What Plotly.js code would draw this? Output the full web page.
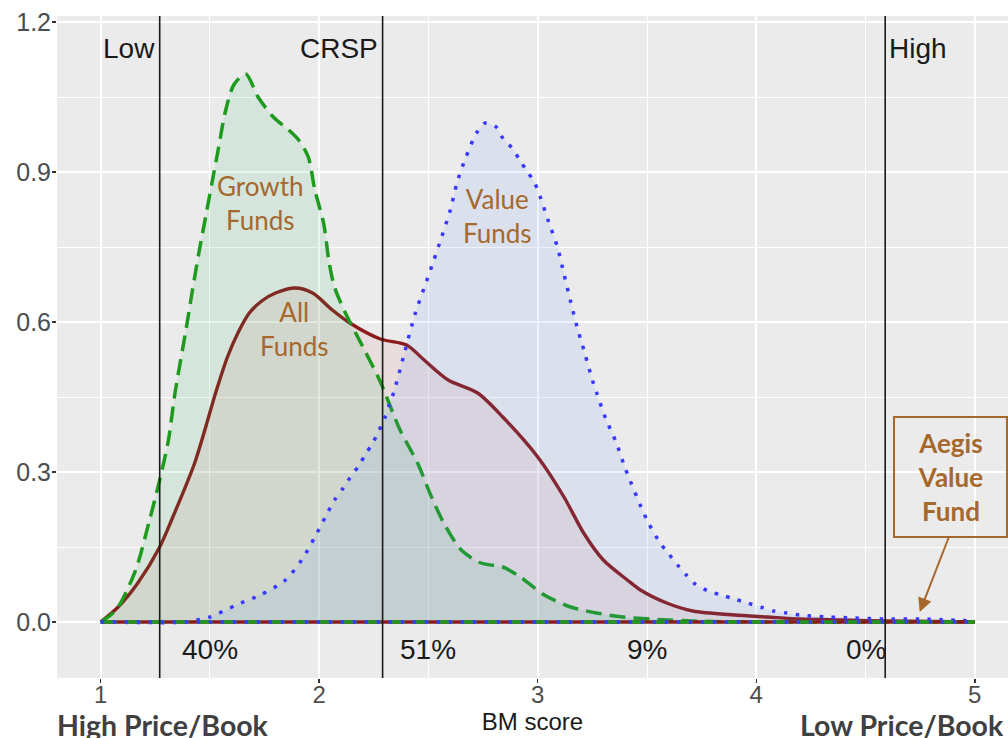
<!DOCTYPE html>
<html><head><meta charset="utf-8">
<script src="https://cdn.plot.ly/plotly-3.0.1.min.js"></script>
<style>html,body{margin:0;padding:0;background:#fff;overflow:hidden}#chart{width:1008px;height:738px}</style>
</head><body><div id="chart"></div>
<script>
// BM score grid points and density values
const growthX = [1.00,1.04,1.08,1.16,1.22,1.27,1.31,1.34,1.39,1.42,1.45,1.48,1.51,1.54,1.57,1.61,1.664,1.72,1.79,1.86,1.906,1.95,1.98,2.02,2.045,2.07,2.12,2.20,2.28,2.37,2.45,2.51,2.57,2.65,2.74,2.84,2.92,3.03,3.15,3.27,3.39,3.59,3.80,4.20,5.00];
const growthY = [0.000,0.012,0.030,0.104,0.198,0.284,0.364,0.458,0.584,0.664,0.740,0.810,0.880,0.950,1.020,1.075,1.096,1.050,1.010,0.984,0.964,0.930,0.864,0.798,0.720,0.670,0.618,0.550,0.480,0.384,0.318,0.254,0.198,0.144,0.118,0.110,0.090,0.054,0.030,0.018,0.010,0.004,0.001,0.000,0.000];

const allX = [1.00,1.08,1.17,1.27,1.33,1.43,1.53,1.58,1.63,1.68,1.74,1.80,1.89,1.97,2.06,2.14,2.28,2.40,2.48,2.59,2.725,2.84,3.00,3.12,3.21,3.30,3.41,3.47,3.59,3.71,3.90,4.05,4.20,4.39,4.60,5.00];
const allY = [0.000,0.030,0.078,0.150,0.210,0.318,0.464,0.530,0.580,0.618,0.643,0.658,0.668,0.658,0.624,0.598,0.566,0.554,0.524,0.484,0.458,0.410,0.330,0.250,0.178,0.124,0.084,0.064,0.038,0.022,0.014,0.010,0.006,0.004,0.002,0.000];

const valueX = [1.00,1.40,1.44,1.50,1.62,1.73,1.84,1.92,1.98,2.04,2.07,2.11,2.14,2.18,2.21,2.245,2.27,2.30,2.32,2.34,2.39,2.44,2.48,2.52,2.56,2.60,2.63,2.67,2.72,2.76,2.81,2.84,2.886,2.92,2.954,2.986,3.01,3.05,3.09,3.12,3.15,3.18,3.215,3.25,3.27,3.31,3.36,3.40,3.50,3.56,3.60,3.64,3.68,3.72,3.78,3.84,3.90,3.96,4.02,4.08,4.14,4.20,4.33,4.45,4.58,4.75,5.00];
const valueY = [0.000,0.000,0.004,0.010,0.034,0.054,0.082,0.124,0.170,0.220,0.244,0.268,0.288,0.312,0.334,0.358,0.380,0.408,0.434,0.458,0.538,0.618,0.668,0.718,0.770,0.824,0.878,0.928,0.978,0.998,0.990,0.968,0.946,0.922,0.900,0.878,0.852,0.800,0.750,0.696,0.642,0.590,0.538,0.484,0.458,0.408,0.358,0.308,0.204,0.158,0.136,0.114,0.094,0.076,0.062,0.054,0.046,0.038,0.030,0.022,0.018,0.014,0.010,0.008,0.006,0.006,0.002];

const cutoffs = [1.27, 2.29, 4.59];
const cutoffLabels = ["Low", "CRSP", "High"];
const shareX = [1.5, 2.5, 3.5, 4.5];
const shareLabels = ["40%", "51%", "9%", "0%"];
const xTicks = [1, 2, 3, 4, 5];

const brown = "#A5682D";
const green = "#1E9A1E", red = "#8B1A1A", blue = "#3838FF";
const greenDash = "16px,8px", blueDot = "3.5px,8.5px";

function curve(x, y, color, fill, dash, width) {
  return {x: x, y: y, type: "scatter", mode: "lines", fill: "tozeroy", fillcolor: fill,
    line: {color: color, width: width, dash: dash, shape: "spline", smoothing: 0.8},
    hoverinfo: "skip", showlegend: false};
}
function base(x, color, dash, width) {
  return {x: [x[0], x[x.length-1]], y: [0, 0], type: "scatter", mode: "lines",
    line: {color: color, width: width, dash: dash}, hoverinfo: "skip", showlegend: false};
}

const traces = [
  curve(allX, allY, red, "rgba(205,85,85,0.10)", "solid", 3.4),
  curve(growthX, growthY, green, "rgba(40,185,90,0.11)", greenDash, 3.5),
  curve(valueX, valueY, blue, "rgba(85,150,255,0.11)", blueDot, 3.5),
  base(allX, red, "solid", 3.4),
  base(growthX, green, greenDash, 3.5),
  base(valueX, blue, blueDot, 3.5)
];

const annotations = [];
const blackFont = {family: "Liberation Sans, Arial", size: 28, color: "#1a1a1a"};
cutoffs.forEach((c, i) => {
  const right = i < 2;
  annotations.push({x: c, y: 1.148, xref: "x", yref: "y", text: cutoffLabels[i], showarrow: false,
    xanchor: right ? "right" : "left", xshift: right ? -3 : 2, font: blackFont});
});
shareX.forEach((s, i) => {
  annotations.push({x: s, y: -0.054, xref: "x", yref: "y", text: shareLabels[i], showarrow: false,
    xanchor: "center", font: blackFont});
});
const brownFont = {family: "Lato, Open Sans", size: 26, color: brown};
annotations.push({x: 1.732, y: 0.838, xref: "x", yref: "y", text: "Growth<br>Funds", showarrow: false, xanchor: "center", font: brownFont});
annotations.push({x: 2.817, y: 0.812, xref: "x", yref: "y", text: "Value<br>Funds", showarrow: false, xanchor: "center", font: brownFont});
annotations.push({x: 1.888, y: 0.586, xref: "x", yref: "y", text: "All<br>Funds", showarrow: false, xanchor: "center", font: brownFont});
// Aegis box
annotations.push({x: 4.890, y: 0.290, xref: "x", yref: "y", text: "<b>Aegis<br>Value<br>Fund</b>",
  showarrow: false, xanchor: "center", yanchor: "middle",
  bordercolor: brown, borderwidth: 2, borderpad: 4, width: 103, height: 110,
  font: {family: "Lato, Open Sans", size: 26, color: brown}});
// Aegis arrow
annotations.push({x: 4.748, y: 0.02, xref: "x", yref: "y", text: "",
  showarrow: true, ax: 4.885, ay: 0.174, axref: "x", ayref: "y",
  arrowcolor: brown, arrowwidth: 2, arrowhead: 2, arrowsize: 1.4});
const boldFont = {family: "Lato, Open Sans", size: 28.5, color: "#404040"};
annotations.push({x: 0.111, y: -0.071, xref: "paper", yref: "paper", text: "<b>High Price/Book</b>", showarrow: false,
  xanchor: "center", yanchor: "middle", font: boldFont});
annotations.push({x: 0.998, y: -0.071, xref: "paper", yref: "paper", text: "<b>Low Price/Book</b>", showarrow: false,
  xanchor: "right", yanchor: "middle", font: boldFont});

const shapes = cutoffs.map(c => ({type: "line", xref: "x", yref: "paper", x0: c, x1: c, y0: 0, y1: 1,
  line: {color: "#1a1a1a", width: 1.6}}));

const layout = {
  width: 1008, height: 738,
  margin: {l: 57, r: 0, t: 16, b: 60},
  paper_bgcolor: "#ffffff", plot_bgcolor: "#EBEBEB",
  showlegend: false,
  xaxis: {range: [0.8, 5.152], tickvals: xTicks, ticktext: xTicks.map(String),
    showgrid: true, gridcolor: "#ffffff", gridwidth: 2, zeroline: false, showline: false,
    ticks: "outside", ticklen: 4, tickwidth: 1.5, tickcolor: "#333333", ticklabelstandoff: -9,
    tickfont: {family: "Liberation Sans, Arial", size: 24, color: "#4D4D4D"},
    minor: {dtick: 0.5, tick0: 0, showgrid: true, gridcolor: "#ffffff", gridwidth: 1},
    title: {text: "BM score", standoff: 2, font: {family: "Liberation Sans, Arial", size: 24, color: "#1a1a1a"}}},
  yaxis: {range: [-0.112, 1.212], tick0: 0, dtick: 0.3, tickformat: ".1f",
    showgrid: true, gridcolor: "#ffffff", gridwidth: 2, zeroline: false, showline: false,
    ticks: "outside", ticklen: 4, tickwidth: 1.5, tickcolor: "#333333", ticklabelstandoff: -4,
    tickfont: {family: "Liberation Sans, Arial", size: 25, color: "#4D4D4D"},
    minor: {dtick: 0.15, tick0: 0, showgrid: true, gridcolor: "#ffffff", gridwidth: 1}},
  annotations: annotations,
  shapes: shapes
};

Plotly.newPlot("chart", traces, layout, {displayModeBar: false, staticPlot: true});
</script>
</body></html>
